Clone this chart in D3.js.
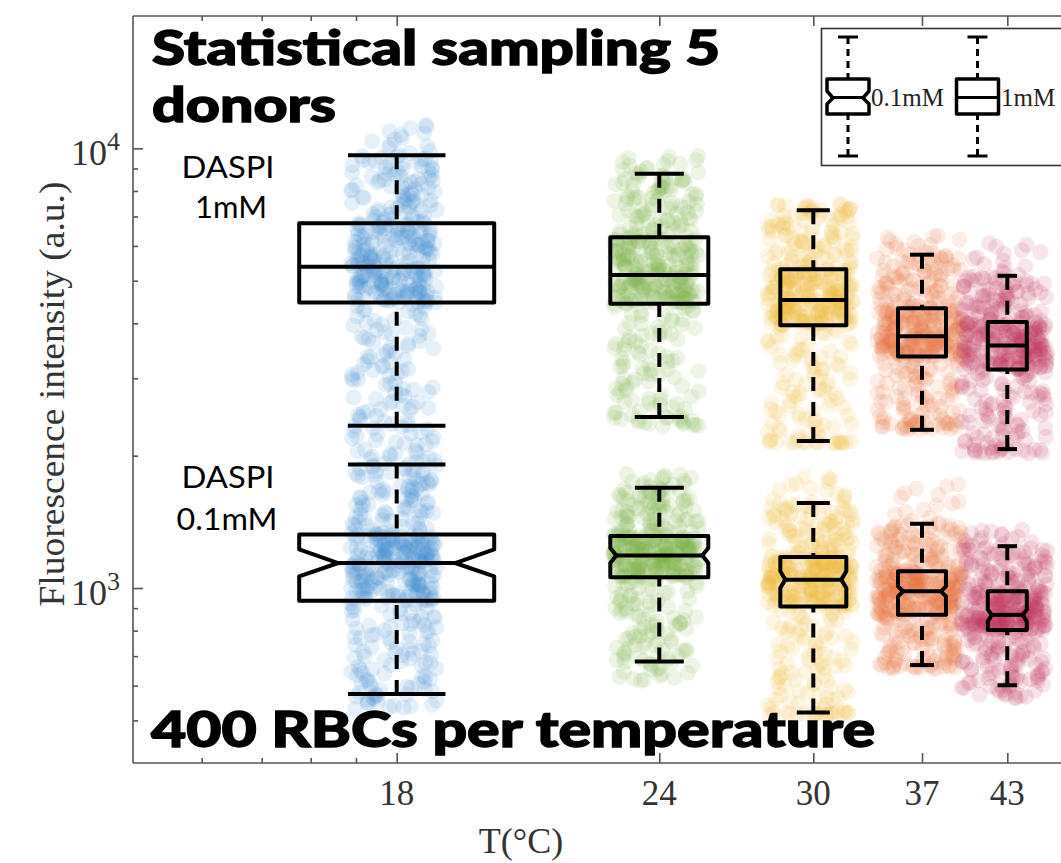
<!DOCTYPE html>
<html lang="en">
<head>
    <meta charset="UTF-8">
    <title>DASPI fluorescence vs temperature</title>
    <style>
        body { margin: 0; background: #fff; }
        .serif { font-family: "Liberation Serif", "DejaVu Serif", serif; fill: #333; }
        .big { font-family: Lato, "Open Sans", sans-serif; font-weight: 900; fill: #000; stroke: #000; stroke-width: 1.4; }
        .lab { font-family: Lato, "Open Sans", sans-serif; font-weight: 400; fill: #000; }
        .axis path, .axis line { stroke: #555; stroke-width: 1.6; }
        .box { fill: none; stroke: #000; stroke-width: 4; stroke-linejoin: round; }
        .whisk { stroke: #000; stroke-width: 4; stroke-dasharray: 14 11; }
        .cap { stroke: #000; stroke-width: 4; }
    </style>
</head>
<body>
    <svg id="chart" width="1061" height="863"></svg>

    <script src="https://d3js.org/d3.v7.min.js"></script>
    <script>
        // ---- data ----
        const temps = [18, 24, 30, 37, 43];
        const xMinorTicks = [14, 15, 16, 17];   // unlabelled ticks left of 18
        const colors = ["#3a8cd0", "#78b545", "#f2b838", "#ea773c", "#c2375d"];

        // DASPI 1mM
        const hi1mM  = [9640, 8750, 7230, 5730, 5130];
        const q3_1mM = [6760, 6280, 5310, 4330, 4030];
        const med1mM = [5380, 5150, 4520, 3740, 3560];
        const q1_1mM = [4460, 4430, 3960, 3360, 3140];
        const lo1mM  = [2340, 2450, 2160, 2290, 2070];
        const cloudHi1mM = [11500, 9700, 7500, 6400, 6200];
        const cloudLo1mM = [2100, 2330, 2130, 2400, 2020];

        // DASPI 0.1mM
        const hi01  = [1910, 1690, 1560, 1400, 1245];
        const q3_01 = [1324, 1313, 1177, 1092, 983];
        const med01 = [1140, 1186, 1045, 983, 869];
        const q1_01 = [936, 1058, 908, 869, 803];
        const lo01  = [574, 681, 521, 668, 601];
        const notchHi01 = [1224, 1234, 1092, 1009, 892];
        const notchLo01 = [1063, 1140, 1000, 957, 839];
        const cloudHi01 = [2080, 1830, 1820, 1760, 1370];
        const cloudLo01 = [530, 612, 515, 655, 560];

        const yMajor = [1000, 10000];
        const yMinor = [500, 600, 700, 800, 900, 2000, 3000, 4000, 5000, 6000, 7000, 8000, 9000];

        // ---- layout ----
        const L = 133, T = 16, B = 763, R = 1090;
        const boxW = [195, 98, 66, 48, 39];
        const notchIn = [39, 6, 5, 5, 4];
        const jitter = 43, nPts = 400;

        const svg = d3.select("#chart");

        const x = d3.scaleLinear()
            .domain(xMinorTicks.concat(temps))
            .range([201.7, 261.7, 310.7, 356, 396.7, 659.3, 813.3, 922, 1007.3]);

        const y = d3.scaleLog()
            .domain([400, 20000])
            .range([B, T]);

        // scatter clouds: spread over the read quantiles; fixed (non-random)
        // van der Corput levels and a hashed jitter so no pattern shows
        const vdc = k => { let v = 0, f = 0.5; while (k) { v += f * (k & 1); k >>= 1; f /= 2; } return v; };
        const hash = k => { const s = Math.sin(k * 12.9898 + 78.233) * 43758.5453; return s - Math.floor(s); };

        const groups = [];
        temps.forEach((t, i) => {
            groups.push({t, i, s: 1, stats: [cloudLo1mM[i], lo1mM[i], q1_1mM[i], med1mM[i], q3_1mM[i], hi1mM[i], cloudHi1mM[i]]});
            groups.push({t, i, s: 2, stats: [cloudLo01[i], lo01[i], q1_01[i], med01[i], q3_01[i], hi01[i], cloudHi01[i]]});
        });

        const pts = svg.append("g");
        groups.forEach(g => {
            const q = d3.scaleLinear()
                .domain([0, 0.04, 0.25, 0.5, 0.75, 0.96, 1])
                .range(g.stats.map(Math.log10));
            const seed = (g.i * 2 + g.s) * 1000;
            const cloud = d3.range(nPts).map(k => ({
                v: Math.pow(10, q(vdc(k + 1))),
                dx: (hash(seed + k) - 0.5) * 2 * jitter
            }));
            pts.selectAll(null)
                .data(cloud)
                .enter().append("circle")
                .attr("cx", d => x(g.t) - 3 + d.dx)
                .attr("cy", d => y(d.v))
                .attr("r", 8)
                .attr("fill", colors[g.i])
                .attr("fill-opacity", 0.13);
        });

        // frame + axes
        svg.append("g").attr("class", "axis")
            .attr("transform", `translate(0,${B})`)
            .call(d3.axisBottom(x).tickValues(temps).tickSize(-10).tickFormat(""))
            .call(g => g.select(".domain").attr("d", `M${L},0H${R}`));
        svg.append("g").attr("class", "axis")
            .attr("transform", `translate(0,${B})`)
            .call(d3.axisBottom(x).tickValues(xMinorTicks).tickSize(-5).tickFormat(""))
            .call(g => g.select(".domain").remove());
        svg.append("g").attr("class", "axis")
            .attr("transform", `translate(0,${T})`)
            .call(d3.axisTop(x).tickValues(temps).tickSize(-10).tickFormat(""))
            .call(g => g.select(".domain").attr("d", `M${L},0H${R}`));
        svg.append("g").attr("class", "axis")
            .attr("transform", `translate(0,${T})`)
            .call(d3.axisTop(x).tickValues(xMinorTicks).tickSize(-5).tickFormat(""))
            .call(g => g.select(".domain").remove());
        svg.append("g").attr("class", "axis")
            .attr("transform", `translate(${L},0)`)
            .call(d3.axisLeft(y).tickValues(yMajor).tickSize(-10).tickFormat(""))
            .call(g => g.select(".domain").attr("d", `M0,${T}V${B}`));
        svg.append("g").attr("class", "axis")
            .attr("transform", `translate(${L},0)`)
            .call(d3.axisLeft(y).tickValues(yMinor).tickSize(-5).tickFormat(""))
            .call(g => g.select(".domain").remove());

        // tick labels
        svg.selectAll(".xl").data(temps).enter().append("text")
            .attr("class", "serif")
            .attr("x", d => x(d)).attr("y", 805)
            .attr("text-anchor", "middle")
            .attr("font-size", 35)
            .text(d => d);
        yMajor.forEach(v => {
            const t = svg.append("text").attr("class", "serif")
                .attr("x", 120).attr("y", y(v) + 17)
                .attr("text-anchor", "end").attr("font-size", 36);
            t.append("tspan").text("10");
            t.append("tspan").attr("font-size", 26).attr("dy", -15).text(Math.round(Math.log10(v)));
        });

        svg.append("text").attr("class", "serif")
            .attr("transform", "translate(64,394) rotate(-90)")
            .attr("text-anchor", "middle").attr("font-size", 36)
            .attr("textLength", 425).attr("lengthAdjust", "spacingAndGlyphs")
            .text("Fluorescence intensity (a.u.)");
        svg.append("text").attr("class", "serif")
            .attr("x", 521).attr("y", 853)
            .attr("text-anchor", "middle").attr("font-size", 36)
            .text("T(°C)");

        // boxes
        const bx = svg.append("g");
        temps.forEach((t, i) => {
            const cx = x(t), w = boxW[i], cw = w / 2;
            const x0 = cx - w / 2, x1 = cx + w / 2;
            // 1mM : plain box
            [[hi1mM[i], q3_1mM[i]], [lo1mM[i], q1_1mM[i]]].forEach(([a, b]) => {
                bx.append("line").attr("class", "whisk")
                    .attr("x1", cx).attr("x2", cx).attr("y1", y(a)).attr("y2", y(b));
                bx.append("line").attr("class", "cap")
                    .attr("x1", cx - cw / 2).attr("x2", cx + cw / 2).attr("y1", y(a)).attr("y2", y(a));
            });
            bx.append("rect").attr("class", "box")
                .attr("x", x0).attr("width", w)
                .attr("y", y(q3_1mM[i])).attr("height", y(q1_1mM[i]) - y(q3_1mM[i]));
            bx.append("line").attr("class", "cap")
                .attr("x1", x0).attr("x2", x1).attr("y1", y(med1mM[i])).attr("y2", y(med1mM[i]));

            // 0.1mM : notched box
            [[hi01[i], q3_01[i]], [lo01[i], q1_01[i]]].forEach(([a, b]) => {
                bx.append("line").attr("class", "whisk")
                    .attr("x1", cx).attr("x2", cx).attr("y1", y(a)).attr("y2", y(b));
                bx.append("line").attr("class", "cap")
                    .attr("x1", cx - cw / 2).attr("x2", cx + cw / 2).attr("y1", y(a)).attr("y2", y(a));
            });
            const n = notchIn[i];
            const p = d3.path();
            p.moveTo(x0, y(q3_01[i])); p.lineTo(x1, y(q3_01[i]));
            p.lineTo(x1, y(notchHi01[i])); p.lineTo(x1 - n, y(med01[i])); p.lineTo(x1, y(notchLo01[i]));
            p.lineTo(x1, y(q1_01[i])); p.lineTo(x0, y(q1_01[i]));
            p.lineTo(x0, y(notchLo01[i])); p.lineTo(x0 + n, y(med01[i])); p.lineTo(x0, y(notchHi01[i]));
            p.closePath();
            bx.append("path").attr("class", "box").attr("d", p.toString());
            bx.append("line").attr("class", "cap")
                .attr("x1", x0 + n).attr("x2", x1 - n).attr("y1", y(med01[i])).attr("y2", y(med01[i]));
        });

        // legend
        const lg = svg.append("g");
        lg.append("rect").attr("x", 821.5).attr("y", 28.5).attr("width", 260).attr("height", 137)
            .attr("fill", "#fff").attr("stroke", "#333").attr("stroke-width", 1.6);
        [{cx: 848, notch: true, label: "0.1mM", tx: 871}, {cx: 977.5, notch: false, label: "1mM", tx: 1001}].forEach(d => {
            const x0 = d.cx - 21, x1 = d.cx + 21;
            [[37, 79], [156, 114]].forEach(([a, b]) => {
                lg.append("line").attr("x1", d.cx).attr("x2", d.cx).attr("y1", a).attr("y2", b)
                    .attr("stroke", "#000").attr("stroke-width", 3).attr("stroke-dasharray", "7 5");
                lg.append("line").attr("x1", d.cx - 10).attr("x2", d.cx + 10).attr("y1", a).attr("y2", a)
                    .attr("stroke", "#000").attr("stroke-width", 3);
            });
            const p = d3.path();
            if (d.notch) {
                p.moveTo(x0, 79); p.lineTo(x1, 79); p.lineTo(x1, 91); p.lineTo(x1 - 6, 98); p.lineTo(x1, 104);
                p.lineTo(x1, 114); p.lineTo(x0, 114); p.lineTo(x0, 104); p.lineTo(x0 + 6, 98); p.lineTo(x0, 91);
                p.closePath();
            } else {
                p.rect(x0, 79, 42, 35);
            }
            lg.append("path").attr("d", p.toString()).attr("fill", "none")
                .attr("stroke", "#000").attr("stroke-width", 3.5).attr("stroke-linejoin", "round");
            const m = d.notch ? 6 : 0;
            lg.append("line").attr("x1", x0 + m).attr("x2", x1 - m).attr("y1", 97.5).attr("y2", 97.5)
                .attr("stroke", "#000").attr("stroke-width", 3);
            lg.append("text").attr("class", "serif").attr("x", d.tx).attr("y", 106)
                .attr("font-size", 25).style("fill", "#222").text(d.label);
        });

        // annotations
        svg.append("text").attr("class", "big").attr("x", 152).attr("y", 65)
            .attr("font-size", 48).attr("textLength", 568).attr("lengthAdjust", "spacingAndGlyphs")
            .text("Statistical sampling 5");
        svg.append("text").attr("class", "big").attr("x", 152).attr("y", 122)
            .attr("font-size", 48).attr("textLength", 184).attr("lengthAdjust", "spacingAndGlyphs")
            .text("donors");
        svg.append("text").attr("class", "big").attr("x", 151).attr("y", 747)
            .attr("font-size", 50).attr("textLength", 724).attr("lengthAdjust", "spacingAndGlyphs")
            .text("400 RBCs per temperature");

        const ann = [
            {t: "DASPI", x: 228, y: 178, w: 93},
            {t: "1mM", x: 231, y: 218, w: 72},
            {t: "DASPI", x: 228, y: 488, w: 93},
            {t: "0.1mM", x: 227, y: 530, w: 101}
        ];
        svg.selectAll(".ann").data(ann).enter().append("text")
            .attr("class", "lab")
            .attr("x", d => d.x - d.w / 2).attr("y", d => d.y)
            .attr("font-size", 30)
            .attr("textLength", d => d.w).attr("lengthAdjust", "spacingAndGlyphs")
            .text(d => d.t);
    </script>
</body>
</html>
